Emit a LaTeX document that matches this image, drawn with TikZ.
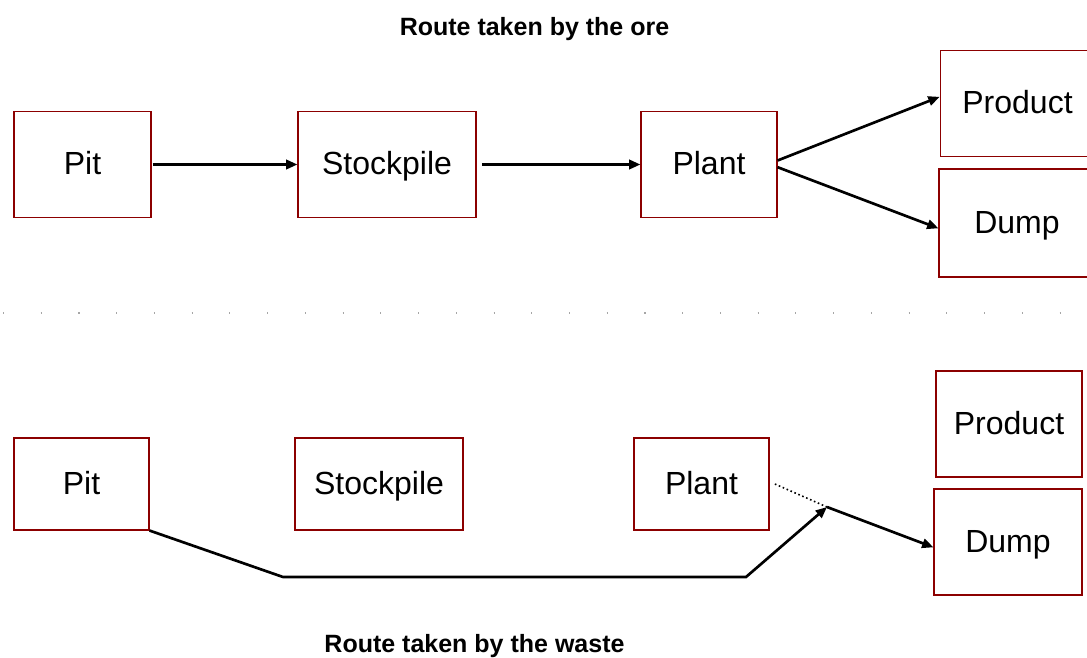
\documentclass[tikz,border=0pt]{standalone}
\usepackage{fontspec}
\setmainfont{Liberation Sans}
\usetikzlibrary{arrows.meta}

\definecolor{boxRed}{RGB}{140,0,0}
\def \boxLine {0.8pt}
\def \flowLine {2pt}

\begin{document}
\begin{tikzpicture}[x=0.75pt, y=-0.75pt,
      stageBox/.style={draw=boxRed, line width=\boxLine, font=\fontsize{24}{28}\selectfont, inner sep=0pt, text height=17.2pt, text depth=2.2pt},
      flow/.style={line width=\flowLine, -{Triangle[length=8.5pt, width=7pt]}},
      route/.style={font=\bfseries\fontsize{18.75}{22}\selectfont, anchor=base}]
      \useasboundingbox (0,0) rectangle (1087,657);

      % ore
      \node[route] (oreTitle) at (534.5,35) {Route taken by the ore};
      \node[stageBox, minimum width=102.75pt, minimum height=79.5pt] (pitOre) at (82.5,164.5) {Pit};
      \node[stageBox, minimum width=133.5pt, minimum height=80pt] (stockOre) at (387,164.5) {Stockpile};
      \node[stageBox, minimum width=102pt, minimum height=80pt] (plantOre) at (709,164.5) {Plant};
      \node[stageBox, minimum width=116pt, minimum height=80pt] (productOre) at (1017.5,103.5) {Product};
      \node[stageBox, minimum width=117pt, minimum height=81pt] (dumpOre) at (1017,223) {Dump};
      \draw[flow, shorten <=1pt] (pitOre) -- (stockOre);
      \draw[flow, shorten <=4pt] (stockOre) -- (plantOre);
      \draw[flow] ([yshift=3pt]plantOre.east) -- ([yshift=5pt]productOre.west);
      \draw[flow] ([yshift=-2pt]plantOre.east) -- ([yshift=-4pt]dumpOre.west);

      \draw[black!35, line width=0.8pt, dash pattern=on 0.8pt off 27.5pt] (3,313) -- (1087,313);

      % waste
      \node[stageBox, minimum width=101.25pt, minimum height=69pt] (pitWaste) at (81.5,484) {Pit};
      \node[stageBox, minimum width=126pt, minimum height=69pt] (stockWaste) at (379,484) {Stockpile};
      \node[stageBox, minimum width=101.25pt, minimum height=69pt] (plantWaste) at (701.5,484) {Plant};
      \node[stageBox, minimum width=109.5pt, minimum height=79.5pt] (productWaste) at (1009,424) {Product};
      \node[stageBox, minimum width=111pt, minimum height=79.5pt] (dumpWaste) at (1008,542) {Dump};
      \coordinate (lowLeft) at (283,577);
      \coordinate (lowRight) at (746,577);
      \coordinate (joinPt) at (827,507);
      \draw[flow] (pitWaste.south east) -- (lowLeft) -- (lowRight) -- (joinPt);
      \draw[line width=1.2pt, dotted] ([xshift=4pt]plantWaste.east) -- (joinPt);
      \draw[flow] (joinPt) -- ([yshift=-4pt]dumpWaste.west);
      \node[route] (wasteTitle) at (474.5,652) {Route taken by the waste};
   \end{tikzpicture}
\end{document}
